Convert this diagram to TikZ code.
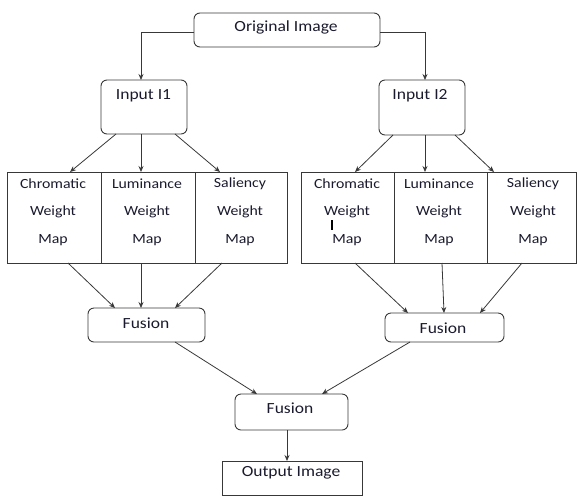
\documentclass[tikz,border=0pt]{standalone}
\usepackage{fontspec}
\setmainfont[FakeStretch=1.13]{Carlito}
\usetikzlibrary{arrows.meta}
\definecolor{linec}{gray}{0.22}
\definecolor{textc}{HTML}{1A1A2E}
\tikzset{
  box/.style={draw=linec, line width=0.9pt, inner sep=0pt, outer sep=0pt},
  rbox/.style={box, rounded corners=6pt},
  lbl/.style={inner sep=0pt, text=textc, font=\fontsize{15.5}{18}\selectfont},
  mlbl/.style={inner sep=0pt, text=textc, font=\fontsize{14}{17}\selectfont},
  arr/.style={draw=linec, line width=0.8pt, -{Stealth[length=6pt,width=5pt]}},
}
\begin{document}
\begin{tikzpicture}[x=1pt,y=-1pt]
\useasboundingbox (0,0) rectangle (577,496);
% boxes
\node[rbox, minimum width=186pt, minimum height=34pt] (orig) at (287,30) {};
\node[lbl] (origt) at (286,27) {Original Image};
\node[rbox, minimum width=86pt, minimum height=54pt] (in1) at (144,107) {};
\node[lbl] (in1t) at (143.5,96) {Input I1};
\node[rbox, minimum width=86pt, minimum height=55pt] (in2) at (422,107.5) {};
\node[lbl] (in2t) at (420,96) {Input I2};
% weight maps left
\node[box, minimum width=94pt, minimum height=91pt] (chrom1) at (54,217.5) {};
\node[box, minimum width=94pt, minimum height=91pt] (lum1) at (148,217.5) {};
\node[box, minimum width=92pt, minimum height=91pt] (sal1) at (241,217.5) {};
% weight maps right
\node[box, minimum width=93pt, minimum height=91pt] (chrom2) at (347.5,217.5) {};
\node[box, minimum width=93pt, minimum height=91pt] (lum2) at (440.5,217.5) {};
\node[box, minimum width=89pt, minimum height=91pt] (sal2) at (531.5,217.5) {};
% map labels
\foreach \n/\x/\w in {c1/53/Chromatic, l1/147/Luminance, s1/240/Saliency, c2/347/Chromatic, l2/439/Luminance, s2/533/Saliency}{
  \node[mlbl] (\n a) at (\x,184) {\w};
  \node[mlbl] (\n b) at (\x,212) {Weight};
  \node[mlbl] (\n c) at (\x,240) {Map};
}
% cursor mark
\draw[line width=1.8pt, black] (332,220) -- (332,230);
% fusion boxes
\node[rbox, minimum width=117pt, minimum height=34pt] (fus1) at (146.5,325) {};
\node[lbl] (fus1t) at (146,323) {Fusion};
\node[rbox, minimum width=119pt, minimum height=29pt] (fus2) at (444.5,327.5) {};
\node[lbl] (fus2t) at (443,328) {Fusion};
\node[rbox, minimum width=113pt, minimum height=36pt] (fus3) at (291.5,412) {};
\node[lbl] (fus3t) at (290,408) {Fusion};
\node[box, minimum width=140pt, minimum height=34pt] (out) at (292,478) {};
\node[lbl] (outt) at (291,473) {Output Image};
% connectors
\draw[arr] ([yshift=-2pt]orig.west) -| ([xshift=-3pt]in1.north);
\draw[arr] ([yshift=-2pt]orig.east) -| ([xshift=3pt]in2.north);
\draw[arr] ([xshift=-28pt]in1.south) -- ([xshift=16pt]chrom1.north);
\draw[arr] ([xshift=-3pt]in1.south) -- ([xshift=-7pt]lum1.north);
\draw[arr] ([xshift=31pt]in1.south) -- ([xshift=-21pt]sal1.north);
\draw[arr] ([xshift=-29pt]in2.south) -- ([xshift=7.5pt]chrom2.north);
\draw[arr] ([xshift=3pt]in2.south) -- ([xshift=-15.5pt]lum2.north);
\draw[arr] ([xshift=33pt]in2.south) -- ([xshift=-37.5pt]sal2.north);
\draw[arr] ([xshift=14pt]chrom1.south) -- ([xshift=-31.5pt]fus1.north);
\draw[arr] ([xshift=-7pt]lum1.south) -- ([xshift=-5.5pt]fus1.north);
\draw[arr] ([xshift=-19pt]sal1.south) -- ([xshift=28.5pt]fus1.north);
\draw[arr] ([xshift=7.5pt]chrom2.south) -- ([xshift=-36.5pt]fus2.north);
\draw[arr] ([xshift=1.5pt]lum2.south) -- ([xshift=-0.5pt]fus2.north);
\draw[arr] ([xshift=-9.5pt]sal2.south) -- ([xshift=35.5pt]fus2.north);
\draw[arr] ([xshift=28.5pt]fus1.south) -- ([xshift=-34.5pt]fus3.north);
\draw[arr] ([xshift=-34.5pt]fus2.south) -- ([xshift=30.5pt]fus3.north);
\draw[arr] ([xshift=-4.5pt]fus3.south) -- ([xshift=-5pt]out.north);
\end{tikzpicture}
\end{document}
